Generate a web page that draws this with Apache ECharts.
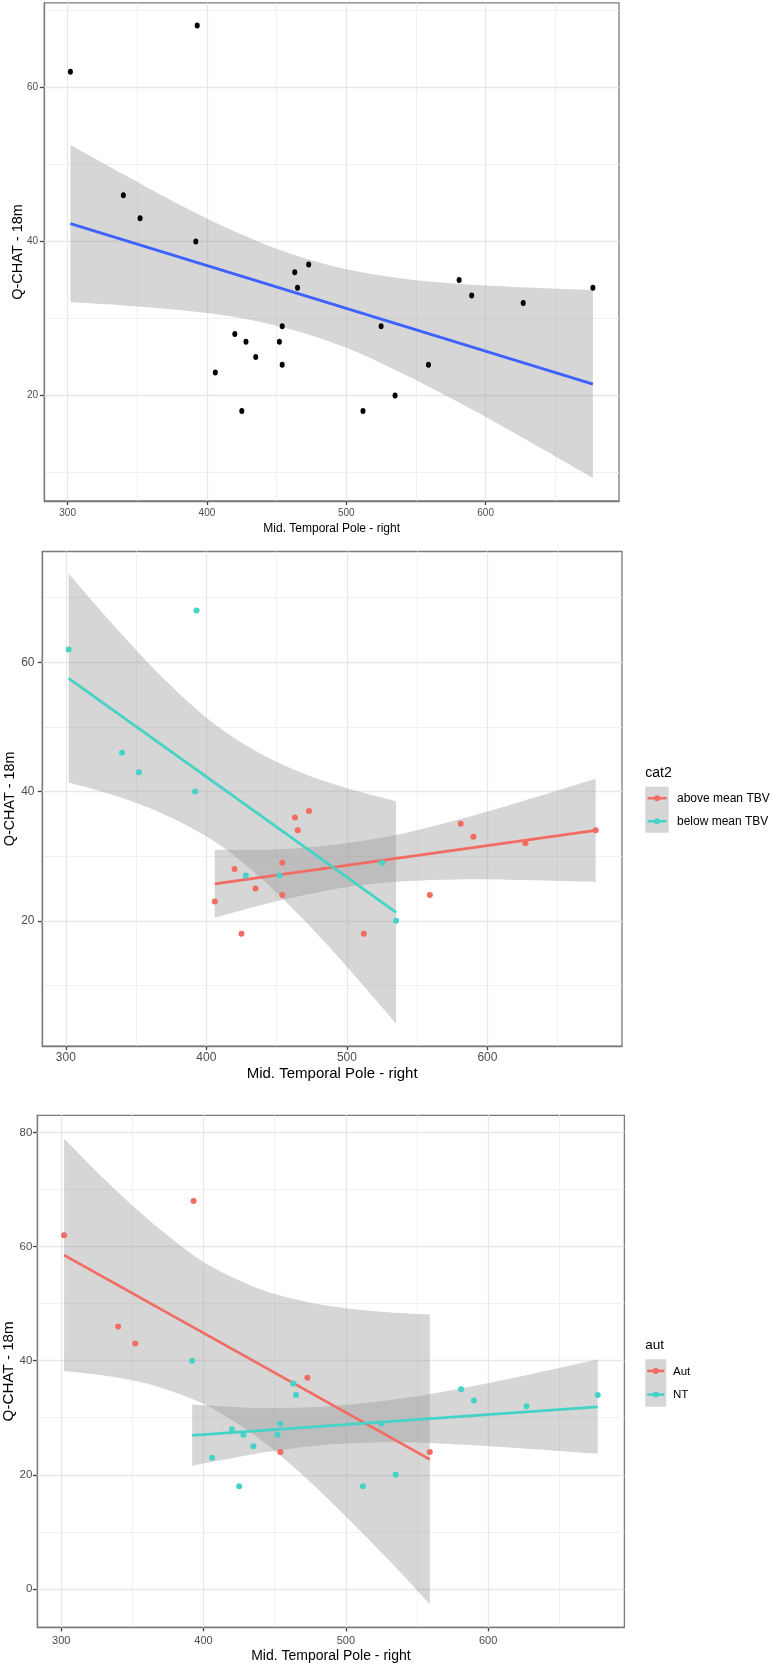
<!DOCTYPE html>
<html><head><meta charset="utf-8">
<script src="https://cdn.jsdelivr.net/npm/echarts@6/dist/echarts.min.js"></script>
<style>html,body{margin:0;padding:0;background:#fff}#c{width:772px;height:1667px}</style>
</head><body><div id="c"></div>
<script>
// ---------- data ----------
const tpRight = [302,393,340,352,392,473,463,465,581,590,627,677,454,525,420,428,452,435,454,559,406,425,512,535];
const qchat18 = [62,68,46,43,40,37,36,34,35,33,32,34,29,29,28,27,27,25,24,24,23,18,18,20];
const cat2    = ['below mean TBV','below mean TBV','below mean TBV','below mean TBV','below mean TBV','above mean TBV','above mean TBV','above mean TBV','above mean TBV','above mean TBV','above mean TBV','above mean TBV','above mean TBV','below mean TBV','above mean TBV','below mean TBV','below mean TBV','above mean TBV','above mean TBV','above mean TBV','above mean TBV','above mean TBV','above mean TBV','below mean TBV'];
const aut     = ['Aut','Aut','Aut','Aut','NT','Aut','NT','NT','NT','NT','NT','NT','NT','NT','NT','NT','NT','NT','Aut','Aut','NT','NT','NT','NT'];

// fitted lines (endpoints) and confidence bands
const fitAllX = [302, 677],  fitAllY = [42.3, 21.5];
const bandAllX  = [302,340,380,420,460,500,540,580,620,677];
const bandAllLo = [32.1,31.7,31.1,30.2,28.6,26.2,22.9,19.2,15.2,9.3];
const bandAllHi = [52.5,48.7,44.8,41.3,38.4,36.4,35.2,34.5,34.1,33.7];

const fitBelowX = [302, 535], fitBelowY = [57.5, 21.3];
const bandBelowX  = [302,330,360,390,413,440,470,500,535];
const bandBelowLo = [41.4,39.7,37.4,34.3,31.2,26.4,20.0,12.9,4.1];
const bandBelowHi = [73.7,66.7,59.6,53.3,49.3,45.7,42.7,40.5,38.5];

const fitAboveX = [406, 677], fitAboveY = [25.7, 34.0];
const bandAboveX  = [406,440,470,503,540,580,620,677];
const bandAboveLo = [20.5,22.5,24.0,25.3,26.1,26.4,26.3,26.0];
const bandAboveHi = [31.0,31.0,31.3,32.1,33.5,35.7,38.2,42.0];

const fitAutX = [302, 559], fitAutY = [58.5, 22.7];
const bandAutX  = [302,330,360,390,410,440,470,500,530,559];
const bandAutLo = [38.2,37.4,36.0,33.5,31.1,26.2,19.9,12.7,5.1,-2.7];
const bandAutHi = [78.9,71.9,65.0,59.0,55.9,52.5,50.4,49.2,48.5,48.1];

const fitNTX = [392, 677], fitNTY = [26.9, 31.9];
const bandNTX  = [392,420,450,493,540,580,620,677];
const bandNTLo = [21.6,22.9,24.2,25.4,25.7,25.3,24.7,23.7];
const bandNTHi = [32.3,31.9,31.7,32.1,33.4,35.1,37.1,40.2];

// axes
const xRange = [283.25, 695.75];
const y1Range = [6.33, 70.94], y2Range = [0.59, 77.15], y3Range = [-6.74, 83.0];
const xTicks = [300,400,500,600], xMinor = [350,450,550,650];
const y12Ticks = [20,40,60], y12Minor = [10,30,50,70];
const y3Ticks = [0,20,40,60,80], y3Minor = [10,30,50,70];
const xTitle = 'Mid. Temporal Pole - right', yTitle = 'Q-CHAT - 18m';

// ---------- chart ----------
const FF = '"Liberation Sans", Arial, Helvetica, sans-serif';
const RED = '#F26C64', CYAN = '#45D3C7', BLUE = '#3D62FF', BORDER = '#7a7a7a';
const chart = echarts.init(document.getElementById('c'), null, {renderer: 'canvas'});

function gridLines(gi, yRange, yVals, style, z) {
  const d = [];
  (style === 'major' ? xTicks : xMinor).forEach(v => d.push({coords: [[v, yRange[0]], [v, yRange[1]]]}));
  yVals.forEach(v => d.push({coords: [[xRange[0], v], [xRange[1], v]]}));
  return {
    type: 'lines', coordinateSystem: 'cartesian2d', xAxisIndex: gi, yAxisIndex: gi,
    data: d, silent: true, z: z, polyline: false, effect: {show: false},
    lineStyle: style === 'major' ? {color: '#e8e8e8', width: 1.3, opacity: 1, curveness: 0}
                                 : {color: '#f1f1f1', width: 1, opacity: 1, curveness: 0}
  };
}
// smooth outline through the band's pixel points (Catmull-Rom as cubic Bezier)
function smoothSeg(P) {
  let d = '';
  for (let i = 0; i < P.length - 1; i++) {
    const p0 = P[i - 1] || P[i], p1 = P[i], p2 = P[i + 1], p3 = P[i + 2] || P[i + 1];
    const c1 = [p1[0] + (p2[0] - p0[0]) / 6, p1[1] + (p2[1] - p0[1]) / 6];
    const c2 = [p2[0] - (p3[0] - p1[0]) / 6, p2[1] - (p3[1] - p1[1]) / 6];
    d += ' C' + c1[0] + ',' + c1[1] + ' ' + c2[0] + ',' + c2[1] + ' ' + p2[0] + ',' + p2[1];
  }
  return d;
}
function band(gi, xs, lo, hi) {
  return {
    type: 'custom', xAxisIndex: gi, yAxisIndex: gi, silent: true, z: 2,
    data: xs.map((x, i) => [x, lo[i], hi[i]]),
    encode: {x: 0, y: [1, 2]},
    renderItem: function (params, api) {
      if (params.dataIndex !== 0) return null;
      const U = xs.map((x, i) => api.coord([x, hi[i]]));
      const L = xs.map((x, i) => api.coord([x, lo[i]])).reverse();
      const path = 'M' + U[0][0] + ',' + U[0][1] + smoothSeg(U) +
                   ' L' + L[0][0] + ',' + L[0][1] + smoothSeg(L) + ' Z';
      return {type: 'path', shape: {pathData: path}, style: {fill: 'rgba(153,153,153,0.4)', stroke: null}};
    }
  };
}
function fit(gi, xs, ys, color) {
  return {type: 'line', xAxisIndex: gi, yAxisIndex: gi, data: xs.map((x, i) => [x, ys[i]]),
    symbol: 'none', silent: true, z: 3, lineStyle: {color: color, width: 2.8}};
}
function pts(gi, filterFn, color, size, name) {
  const d = [];
  tpRight.forEach((x, i) => { if (filterFn(i)) d.push([x, qchat18[i]]); });
  return {type: 'scatter', name: name, xAxisIndex: gi, yAxisIndex: gi, data: d, symbol: 'circle',
    symbolSize: size, itemStyle: {color: color, opacity: 1}, z: 4, silent: true};
}
function xAx(gi, fs, margin, nameSize, nameGap) {
  return {type: 'value', gridIndex: gi, min: xRange[0], max: xRange[1], splitNumber: 4,
    name: xTitle, nameLocation: 'middle', nameGap: nameGap, nameMoveOverlap: false,
    nameTextStyle: {fontSize: nameSize, color: '#000', fontFamily: FF},
    axisLine: {show: true, onZero: false, lineStyle: {color: BORDER, width: 1.3}},
    axisTick: {show: true, length: 4, customValues: xTicks, lineStyle: {color: '#444', width: 1.3}},
    axisLabel: {customValues: xTicks, fontSize: fs, color: '#4d4d4d', fontFamily: FF, margin: margin,
      formatter: v => (v % 100 === 0 ? String(v) : '')},
    splitLine: {show: false}};
}
function yAx(gi, range, ticks, step, fs, margin, nameSize, nameGap) {
  return {type: 'value', gridIndex: gi, min: range[0], max: range[1], splitNumber: 4,
    name: yTitle, nameLocation: 'middle', nameGap: nameGap, nameMoveOverlap: false,
    nameTextStyle: {fontSize: nameSize, color: '#000', fontFamily: FF},
    axisLine: {show: true, onZero: false, lineStyle: {color: BORDER, width: 1.3}},
    axisTick: {show: true, length: 4.5, customValues: ticks, lineStyle: {color: '#444', width: 1.3}},
    axisLabel: {customValues: ticks, fontSize: fs, color: '#4d4d4d', fontFamily: FF, margin: margin,
      formatter: v => (v % step === 0 ? String(v) : '')},
    splitLine: {show: false}};
}

const gridCommon = {show: true, backgroundColor: '#fff', borderColor: BORDER, borderWidth: 1.3,
  containLabel: false, outerBoundsMode: 'none'};

const legendGraphics = [
  {type: 'text', x: 645.3, y: 773.3, style: {text: 'cat2', fontSize: 14, fontFamily: FF, fill: '#000', verticalAlign: 'middle', align: 'left'}},
  {type: 'rect', shape: {x: 645.3, y: 786.7, width: 23.4, height: 46}, style: {fill: '#d6d6d6'}},
  {type: 'line', shape: {x1: 647.5, y1: 798.2, x2: 666.5, y2: 798.2}, style: {stroke: RED, lineWidth: 2.6}},
  {type: 'circle', shape: {cx: 657, cy: 798.2, r: 3}, style: {fill: RED}},
  {type: 'line', shape: {x1: 647.5, y1: 821.2, x2: 666.5, y2: 821.2}, style: {stroke: CYAN, lineWidth: 2.6}},
  {type: 'circle', shape: {cx: 657, cy: 821.2, r: 3}, style: {fill: CYAN}},
  {type: 'text', x: 677, y: 798.5, style: {text: 'above mean TBV', fontSize: 12, fontFamily: FF, fill: '#000', verticalAlign: 'middle', align: 'left'}},
  {type: 'text', x: 677, y: 821.5, style: {text: 'below mean TBV', fontSize: 12, fontFamily: FF, fill: '#000', verticalAlign: 'middle', align: 'left'}},

  {type: 'text', x: 645.3, y: 1345.3, style: {text: 'aut', fontSize: 13.5, fontFamily: FF, fill: '#000', verticalAlign: 'middle', align: 'left'}},
  {type: 'rect', shape: {x: 645.3, y: 1359.3, width: 21, height: 47.4}, style: {fill: '#d6d6d6'}},
  {type: 'line', shape: {x1: 647.3, y1: 1370.9, x2: 664.3, y2: 1370.9}, style: {stroke: RED, lineWidth: 2.6}},
  {type: 'circle', shape: {cx: 655.8, cy: 1370.9, r: 3}, style: {fill: RED}},
  {type: 'line', shape: {x1: 647.3, y1: 1394.6, x2: 664.3, y2: 1394.6}, style: {stroke: CYAN, lineWidth: 2.6}},
  {type: 'circle', shape: {cx: 655.8, cy: 1394.6, r: 3}, style: {fill: CYAN}},
  {type: 'text', x: 673, y: 1371.5, style: {text: 'Aut', fontSize: 11.5, fontFamily: FF, fill: '#000', verticalAlign: 'middle', align: 'left'}},
  {type: 'text', x: 673, y: 1395, style: {text: 'NT', fontSize: 11.5, fontFamily: FF, fill: '#000', verticalAlign: 'middle', align: 'left'}}
];

const option = {
  animation: false,
  backgroundColor: '#fff',
  textStyle: {fontFamily: FF},
  grid: [
    Object.assign({left: 44.3, top: 2.9, width: 574.7, height: 498.1}, gridCommon),
    Object.assign({left: 42.3, top: 551.5, width: 579.7, height: 494.7}, gridCommon),
    Object.assign({left: 37.4, top: 1115.3, width: 587, height: 512.1}, gridCommon)
  ],
  xAxis: [xAx(0, 10, 7.5, 12, 22), xAx(1, 12, 5.5, 15, 20), xAx(2, 11, 8, 14, 22)],
  yAxis: [
    yAx(0, y1Range, y12Ticks, 20, 10, 6.2, 14.5, 19),
    yAx(1, y2Range, y12Ticks, 20, 12, 7.8, 14.4, 25.5),
    yAx(2, y3Range, y3Ticks, 20, 11.5, 5, 15.2, 21)
  ],
  graphic: {elements: legendGraphics},
  series: [].concat(
    gridLines(0, y1Range, y12Minor, 'minor', 0), gridLines(0, y1Range, y12Ticks, 'major', 1),
    gridLines(1, y2Range, y12Minor, 'minor', 0), gridLines(1, y2Range, y12Ticks, 'major', 1),
    gridLines(2, y3Range, y3Minor, 'minor', 0), gridLines(2, y3Range, y3Ticks, 'major', 1),
    pts(0, i => true, '#000', [5, 6], 'all'),
    band(0, bandAllX, bandAllLo, bandAllHi),
    fit(0, fitAllX, fitAllY, BLUE),
    pts(1, i => cat2[i] === 'above mean TBV', RED, 6, 'above mean TBV'),
    pts(1, i => cat2[i] === 'below mean TBV', CYAN, 6, 'below mean TBV'),
    band(1, bandAboveX, bandAboveLo, bandAboveHi),
    band(1, bandBelowX, bandBelowLo, bandBelowHi),
    fit(1, fitAboveX, fitAboveY, RED),
    fit(1, fitBelowX, fitBelowY, CYAN),
    pts(2, i => aut[i] === 'Aut', RED, 6, 'Aut'),
    pts(2, i => aut[i] === 'NT', CYAN, 6, 'NT'),
    band(2, bandAutX, bandAutLo, bandAutHi),
    band(2, bandNTX, bandNTLo, bandNTHi),
    fit(2, fitAutX, fitAutY, RED),
    fit(2, fitNTX, fitNTY, CYAN)
  )
};
chart.setOption(option);
</script></body></html>
